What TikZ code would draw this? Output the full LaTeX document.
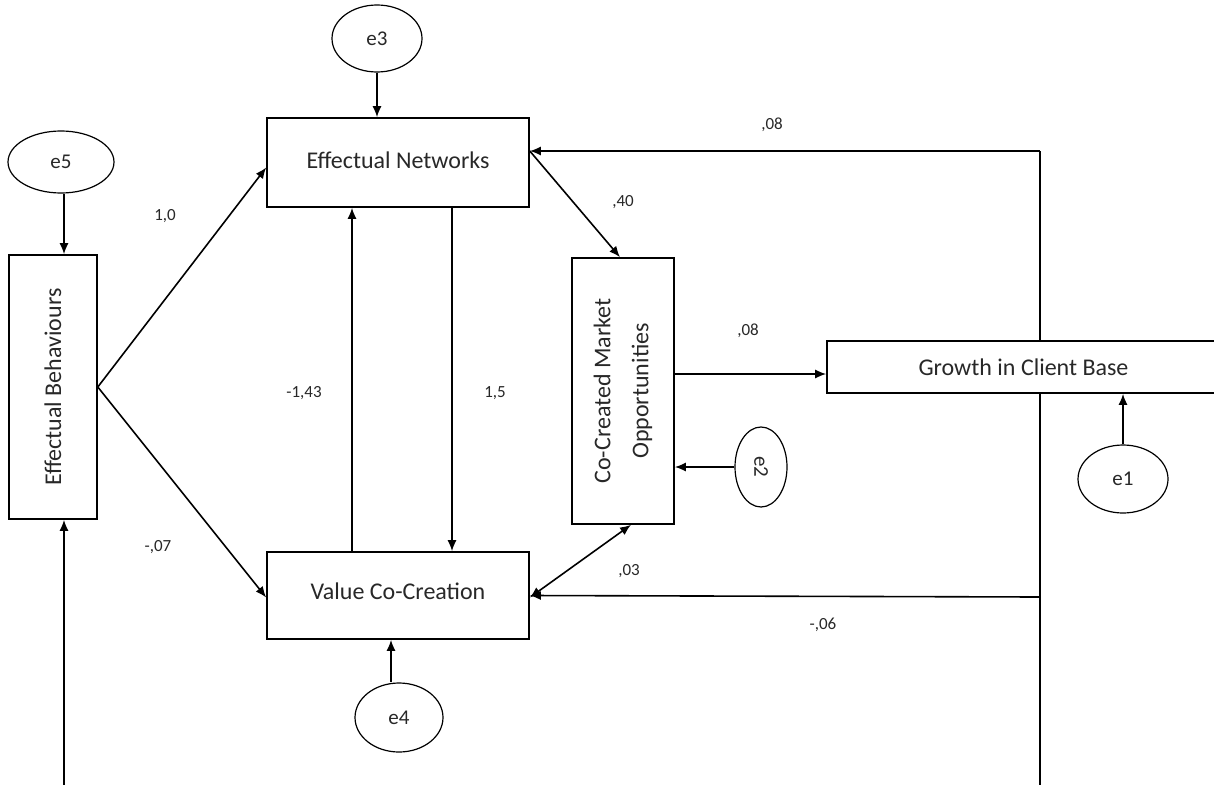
\documentclass[tikz,border=0pt]{standalone}
\usepackage{fontspec}
\setmainfont{Carlito}
\usetikzlibrary{arrows.meta,calc,shapes.geometric}
\definecolor{txt}{RGB}{40,40,40}
\tikzset{
  box/.style={draw=black, line width=1.6pt, fill=white, inner sep=0pt, text=txt, font=\fontsize{24}{29}\selectfont},
  err/.style={draw=black, line width=1.2pt, ellipse, fill=white, inner sep=0pt, text=txt, font=\fontsize{21}{25}\selectfont},
  conn/.style={line width=1.6pt, -{Latex[length=11pt,width=9pt]}},
  bothconn/.style={line width=1.6pt, {Latex[length=11pt,width=9pt]}-{Latex[length=11pt,width=9pt]}},
  plain/.style={line width=1.6pt},
  lab/.style={text=txt, font=\fontsize{17}{20}\selectfont, inner sep=0pt}
}
\begin{document}
\begin{tikzpicture}[x=1pt,y=-1pt]
\useasboundingbox (0,0) rectangle (1214,784);
\fill[white] (0,0) rectangle (1214,784);

% connecting lines behind boxes
\coordinate (tr) at (1040,151);
\coordinate (mr) at (1040,597);
\coordinate (br) at (1040,790);
\coordinate (bl) at (64,790);

% boxes
\node[box, minimum width=262pt, minimum height=89pt] (EN) at (398,162.5) {\raisebox{4pt}{Effectual Networks}};
\node[box, minimum width=262pt, minimum height=87pt] (VCC) at (398,595.5) {\raisebox{8pt}{Value Co-Creation}};
\node[box, minimum width=88pt, minimum height=264pt] (EB) at (53,387) {};
\node[rotate=90, text=txt, font=\fontsize{24}{29}\selectfont] (EBt) at (EB.center) {Effectual Behaviours};
\node[box, minimum width=102pt, minimum height=266pt] (CC) at (623,391) {};
\node[rotate=90, text=txt, font=\fontsize{24}{38}\selectfont, align=center] (CCt) at (CC.center) {Co-Created Market\\Opportunities};

\draw[plain] (br) -- (tr);
\draw[conn] (tr) -- (tr -| EN.east);
\draw[conn] (mr) -- (VCC.east);

\node[box, minimum width=393pt, minimum height=52pt] (GC) at (1023.5,367) {Growth in Client Base};

% error terms
\node[err, minimum width=90pt, minimum height=67pt] (e3) at (377,38.5) {e3};
\node[err, minimum width=106pt, minimum height=62pt] (e5) at (61,162) {e5};
\node[err, minimum width=88pt, minimum height=69pt] (e4) at (399,717.5) {e4};
\node[err, minimum width=90pt, minimum height=68pt] (e1) at (1123,479) {e1};
\node[err, minimum width=52pt, minimum height=80pt] (e2) at (761,467) {\rotatebox{-90}{e2}};

% error arrows
\draw[conn] (e3.south) -- (e3.south |- EN.north);
\draw[conn] ($(e5.south)+(3,0)$) -- ($(e5.south |- EB.north)+(3,0)$);
\draw[conn] ($(e4.north)+(-8,0)$) -- ($(e4.north |- VCC.south)+(-8,0)$);
\draw[conn] (e1.north) -- (e1.north |- GC.south);
\draw[conn] (e2.west) -- (e2.west -| CC.east);

% structural paths
\draw[conn] (EB.east) -- ($(EN.west)+(0,5)$);
\draw[conn] (EB.east) -- ($(VCC.west)+(0,2)$);
\draw[conn] ($(VCC.north)+(-46,0)$) -- ($(VCC.north |- EN.south)+(-46,0)$);
\draw[conn] ($(EN.south)+(54,0)$) -- ($(EN.south |- VCC.north)+(54,0)$);
\draw[conn] (tr -| EN.east) -- ($(CC.north)+(-3,0)$);
\coordinate (ccout) at ($(CC.east)+(0,-17)$);
\draw[conn] (ccout) -- (ccout -| GC.west);
\draw[bothconn] ($(VCC.east)+(0,2)$) -- ($(CC.south)+(8,0)$);
\draw[conn] (bl) -- (bl |- EB.south);

% labels
\node[lab] (l1) at (165,216) {1,0};
\node[lab] (l2) at (158,547) {-,07};
\node[lab] (l3) at (304,393) {-1,43};
\node[lab] (l4) at (495,393) {1,5};
\node[lab] (l5) at (623,202) {,40};
\node[lab] (l6) at (772,125) {,08};
\node[lab] (l7) at (748,331) {,08};
\node[lab] (l8) at (629,571) {,03};
\node[lab] (l9) at (823,625) {-,06};
\end{tikzpicture}
\end{document}
